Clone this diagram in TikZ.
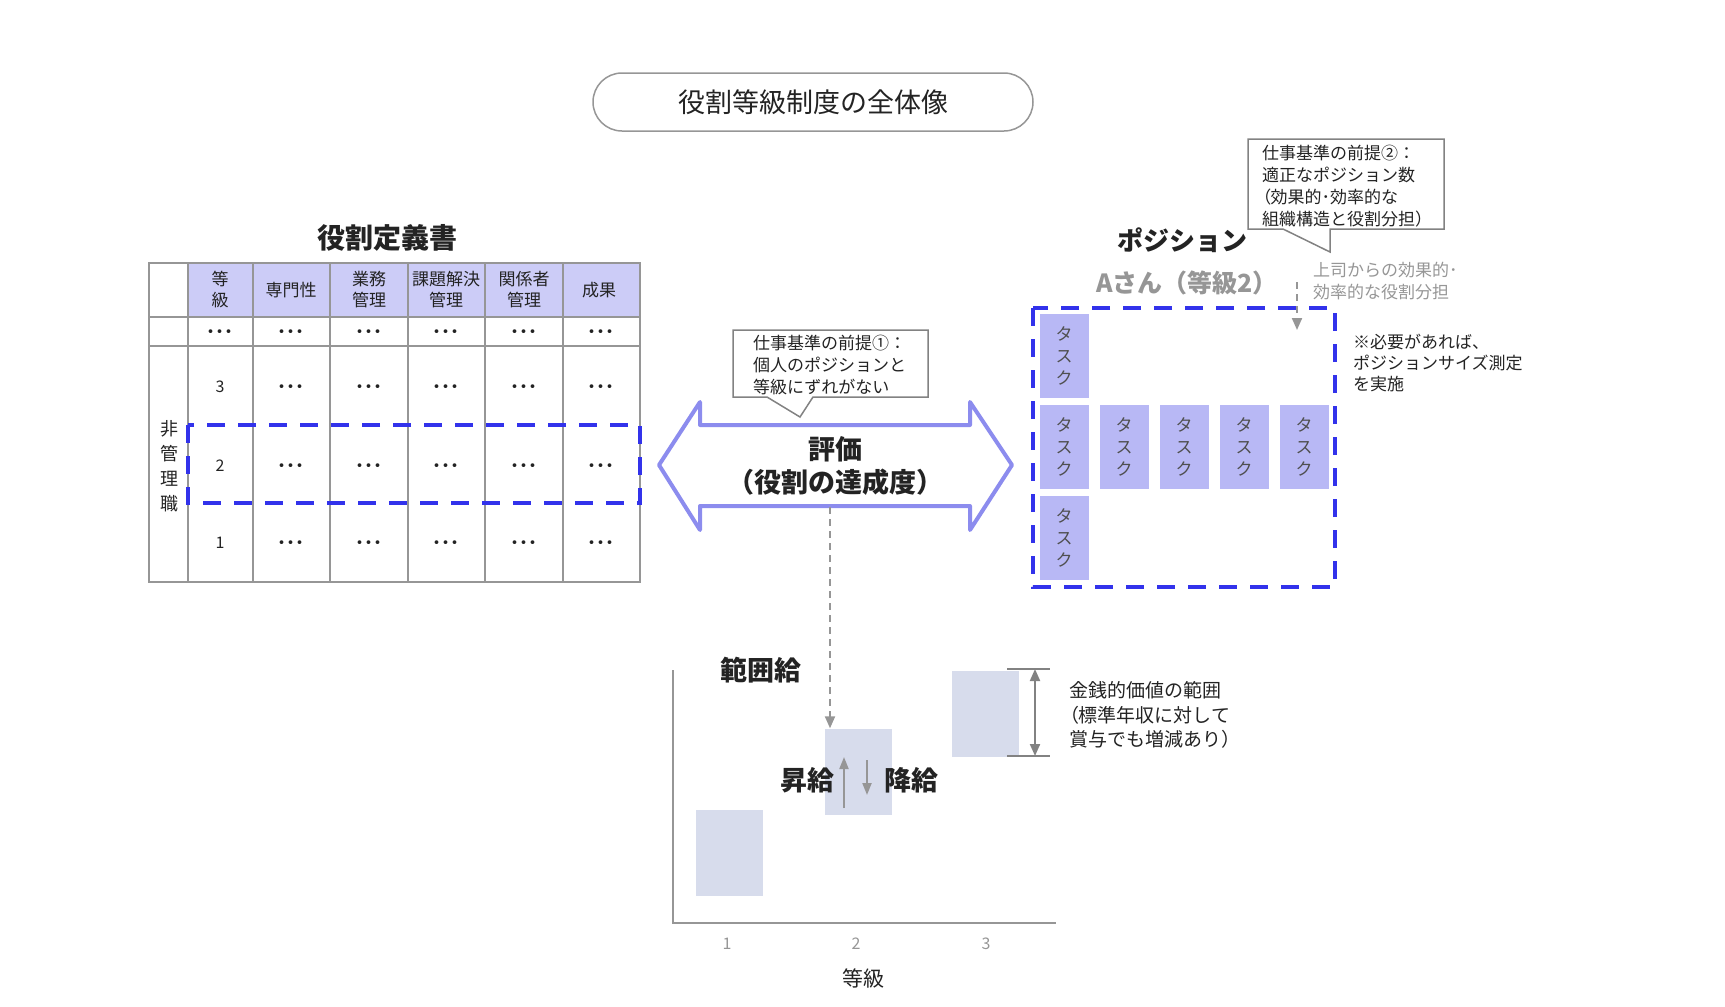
\documentclass[tikz,border=0pt]{standalone}
\usepackage{fontspec}
\setmainfont{Noto Sans CJK JP}
\newfontfamily\paltfont[RawFeature=+palt]{Noto Sans CJK JP}
\newcommand\lparen{{\paltfont （}}
\usetikzlibrary{arrows.meta}

\definecolor{tabgrey}{RGB}{150,150,150}
\definecolor{hdrfill}{RGB}{204,204,247}
\definecolor{dashblue}{RGB}{50,50,235}
\definecolor{arrowlav}{RGB}{140,140,238}
\definecolor{taskfill}{RGB}{184,184,245}
\definecolor{barfill}{RGB}{215,220,236}
\definecolor{notegrey}{RGB}{150,150,150}
\definecolor{callgrey}{RGB}{130,130,130}
\definecolor{inkgrey}{RGB}{35,35,35}

\tikzset{
pill/.style={draw=tabgrey,line width=1.5pt,rounded corners=29pt,
minimum width=440pt,minimum height=58pt,
font=\fontsize{27pt}{32pt}\selectfont,text=inkgrey},
tabline/.style={draw=tabgrey,line width=2pt},
hdr/.style={font=\fontsize{17pt}{21pt}\selectfont,align=center,text=inkgrey,inner sep=0pt},
dots/.style={font=\fontsize{18pt}{20pt}\selectfont\bfseries,text=inkgrey,inner sep=0pt},
cell/.style={font=\fontsize{16pt}{20pt}\selectfont,text=inkgrey,inner sep=0pt},
bluedash/.style={draw=dashblue,line width=4pt,dash pattern=on 18pt off 13pt},
evalarrow/.style={draw=arrowlav,line width=4pt,line join=round,fill=white},
bighead/.style={font=\fontsize{27pt}{33pt}\selectfont\bfseries,align=center,text=inkgrey,inner sep=0pt},
calltext/.style={font=\fontsize{17pt}{22pt}\selectfont,align=left,anchor=west,inner sep=0pt,text=inkgrey},
callline/.style={draw=callgrey,line width=1.5pt,fill=white},
notetext/.style={font=\fontsize{17pt}{21.5pt}\selectfont,align=left,anchor=west,inner sep=0pt},
taskbox/.style={fill=taskfill,minimum width=49pt,minimum height=84pt,inner sep=0pt,
align=center,font=\fontsize{17pt}{22pt}\selectfont,text=inkgrey!80},
bar/.style={fill=barfill,minimum width=67pt,minimum height=86pt,inner sep=0pt},
axis/.style={draw=tabgrey,line width=1.5pt},
greydash/.style={draw=notegrey,line width=2pt,dash pattern=on 7pt off 5pt,
-{Triangle[length=12pt,width=10pt]}},
greyarrow/.style={draw=notegrey,line width=2pt,-{Triangle[length=12pt,width=9pt]}},
dimline/.style={draw=callgrey,line width=2pt}
}

\begin{document}
\begin{tikzpicture}[x=1pt,y=-1pt]
\useasboundingbox (0,0) rectangle (1725,1007);

% Title
\node[pill] (title) at (813,102) {役割等級制度の全体像};

% Role definition sheet
\node[bighead,font=\fontsize{28pt}{33pt}\selectfont\bfseries] (tabtitle) at (387,238) {役割定義書};

\fill[hdrfill] (188,263) rectangle (640,317);
\draw[tabline] (149,263) rectangle (640,582);
\foreach \x in {188,253,330,408,485,563}
{
\draw[tabline] (\x,263) -- (\x,582);
}
\foreach \y in {317,346}
{
\draw[tabline] (149,\y) -- (640,\y);
}

\foreach \x/\t [count=\i] in {
220/{等\\級},291/専門性,
369/{業務\\管理},446/{課題解決\\管理},
524/{関係者\\管理},601/成果
}
{
\node[hdr] (hdr\i) at (\x,290) {\t};
}

\foreach \x [count=\i] in {220,291,369,446,524,601}
{
\node[dots] (dtop\i) at (\x,334) {･･･};
}
\foreach \x [count=\i] in {291,369,446,524,601}
{
\node[dots] (dthree\i) at (\x,389) {･･･};
\node[dots] (dtwo\i) at (\x,468) {･･･};
\node[dots] (done\i) at (\x,545) {･･･};
}

\node[cell] (gthree) at (220,387) {3};
\node[cell] (gtwo) at (220,466) {2};
\node[cell] (gone) at (220,543) {1};
\node[cell,align=center,font=\fontsize{18pt}{25pt}\selectfont] (nonmgr) at (169,466) {非\\管\\理\\職};

\draw[bluedash] (188,425) rectangle (640,503);

% Evaluation
\draw[evalarrow] (659,465) -- (700,402) -- (700,425) -- (970,425)
-- (970,402) -- (1012,465) -- (970,530) -- (970,506)
-- (700,506) -- (700,530) -- cycle;
\node[bighead] (eval) at (835,466) {評価\\（役割の達成度）};
\coordinate (evalbot) at (830,507);

\draw[callline] (733,330) -- (928,330) -- (928,397) -- (813,397)
-- (800,417) -- (767,397) -- (733,397) -- cycle;
\node[calltext] (premone) at (753,365)
{仕事基準の前提①：\\個人のポジションと\\等級にずれがない};

% Position
\node[bighead,font=\fontsize{26pt}{30pt}\selectfont\bfseries] (pos) at (1182,240) {ポジション};
\node[bighead,font=\fontsize{25pt}{30pt}\selectfont\bfseries,text=notegrey] (asan) at (1187,283) {Aさん（等級2）};

\draw[callline] (1248,139) -- (1444,139) -- (1444,229) -- (1330,229)
-- (1330,252) -- (1283,229) -- (1248,229) -- cycle;
\node[calltext] (premtwo) at (1262,186)
{仕事基準の前提②：\\適正なポジション数\\\lparen 効果的･効率的な\\組織構造と役割分担）};

\node[notetext,text=notegrey] (boss) at (1313,281) {上司からの効果的･\\効率的な役割分担};
\coordinate (bosstop) at (1297,282);
\coordinate (bossend) at (1297,330);
\draw[greydash] (bosstop) -- (bossend);

\draw[bluedash] (1033,308) rectangle (1335,587);

\node[taskbox] (taskup) at (1064,356) {タ\\ス\\ク};
\foreach \i in {0,...,4}
{
\node[taskbox] (task\i) at (1064+60*\i,447) {タ\\ス\\ク};
}
\node[taskbox] (taskdown) at (1064,538) {タ\\ス\\ク};

\node[notetext,text=inkgrey] (sizenote) at (1353,363)
{※必要があれば、\\ポジションサイズ測定\\を実施};

% Range pay
\coordinate (ytop) at (673,670);
\coordinate (origin) at (673,923);
\coordinate (xend) at (1056,923);
\draw[axis] (ytop) -- (origin) -- (xend);
\node[bighead] (range) at (761,670) {範囲給};

\node[bar] (barone) at (729.5,852.5) {};
\node[bar] (bartwo) at (858,771.5) {};
\node[bar] (barthree) at (985.5,713.5) {};

\foreach \x/\n in {727/1,856/2,986/3}
{
\node[cell,text=tabgrey] (tick\n) at (\x,944) {\n};
}
\node[cell,font=\fontsize{21pt}{24pt}\selectfont] (gradelab) at (863,978) {等級};

\draw[greydash] (evalbot) -- (evalbot |- bartwo.north);

\node[bighead] (raise) at (807,780) {昇給};
\node[bighead] (cut) at (911,780) {降給};
\coordinate (upbot) at (844,808);
\coordinate (uptop) at (844,757);
\coordinate (dntop) at (867,760);
\coordinate (dnbot) at (867,795);
\draw[greyarrow] (upbot) -- (uptop);
\draw[greyarrow] (dntop) -- (dnbot);

\coordinate (dimtop) at (1035,669);
\coordinate (dimbot) at (1035,756);
\draw[dimline] (1007,669) -- (1050,669);
\draw[dimline] (1007,756) -- (1050,756);
\draw[dimline,{Triangle[length=12pt,width=10pt]}-{Triangle[length=12pt,width=10pt]}] (dimtop) -- (dimbot);
\node[notetext,font=\fontsize{19pt}{24.5pt}\selectfont,text=inkgrey] (money) at (1069,715)
{金銭的価値の範囲\\\lparen 標準年収に対して\\賞与でも増減あり）};

\end{tikzpicture}
\end{document}
